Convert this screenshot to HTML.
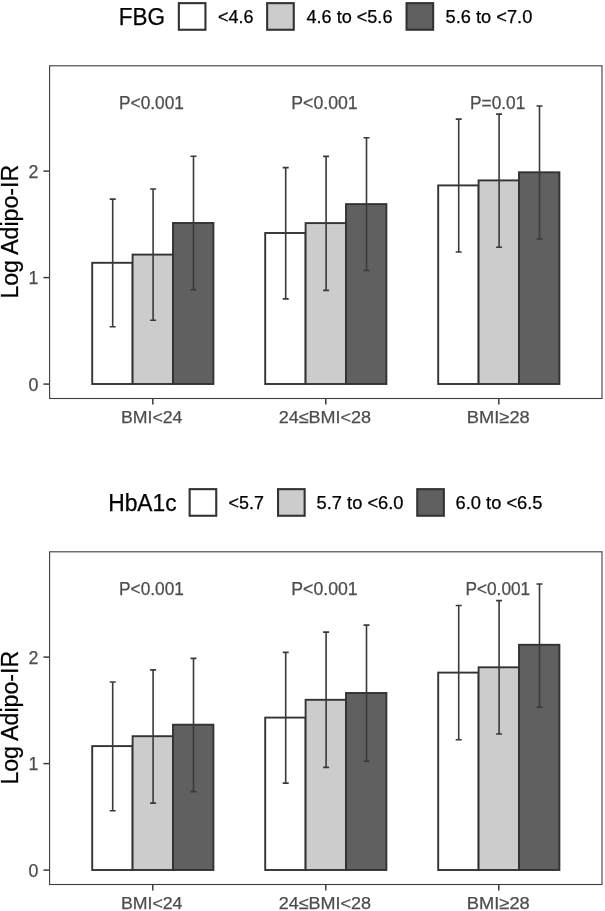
<!DOCTYPE html>
<html><head><meta charset="utf-8"><title>Log Adipo-IR</title>
<style>
html,body{margin:0;padding:0;background:#fff;}
body{width:605px;height:911px;overflow:hidden;}
svg{display:block;font-family:"Liberation Sans",Arial,sans-serif;will-change:transform;}
text{stroke:currentColor;stroke-width:0.25px;}
</style></head><body>
<svg width="605" height="911" viewBox="0 0 605 911">
<rect x="0" y="0" width="605" height="911" fill="#ffffff"/>
<text id="lt0" x="118.80" y="25.10" font-size="23.0" fill="#000" color="#000" textLength="46.28" lengthAdjust="spacingAndGlyphs">FBG</text>
<rect x="178.85" y="3.15" width="26.6" height="26.6" fill="#ffffff" stroke="#333333" stroke-width="2.1"/>
<text id="ll00" x="218.00" y="22.60" font-size="17.8" fill="#000" color="#000" textLength="35.51" lengthAdjust="spacingAndGlyphs">&lt;4.6</text>
<rect x="267.15" y="3.15" width="26.6" height="26.6" fill="#cccccc" stroke="#333333" stroke-width="2.1"/>
<text id="ll01" x="306.50" y="22.60" font-size="17.8" fill="#000" color="#000" textLength="85.93" lengthAdjust="spacingAndGlyphs">4.6 to &lt;5.6</text>
<rect x="406.55" y="3.15" width="26.6" height="26.6" fill="#606060" stroke="#333333" stroke-width="2.1"/>
<text id="ll02" x="445.60" y="22.60" font-size="17.8" fill="#000" color="#000" textLength="86.73" lengthAdjust="spacingAndGlyphs">5.6 to &lt;7.0</text>
<rect x="49.6" y="65.8" width="552.40" height="332.70" fill="none" stroke="#3d3d3d" stroke-width="1.1"/>
<line x1="43.4" y1="384.10" x2="49.6" y2="384.10" stroke="#3d3d3d" stroke-width="1.5"/>
<text id="yt00" x="38.30" y="390.90" font-size="17.8" fill="#4d4d4d" color="#4d4d4d" text-anchor="end">0</text>
<line x1="43.4" y1="277.60" x2="49.6" y2="277.60" stroke="#3d3d3d" stroke-width="1.5"/>
<text id="yt01" x="38.30" y="284.40" font-size="17.8" fill="#4d4d4d" color="#4d4d4d" text-anchor="end">1</text>
<line x1="43.4" y1="171.10" x2="49.6" y2="171.10" stroke="#3d3d3d" stroke-width="1.5"/>
<text id="yt02" x="38.30" y="177.90" font-size="17.8" fill="#4d4d4d" color="#4d4d4d" text-anchor="end">2</text>
<text id="yl0" transform="translate(17.80,231.75) rotate(-90)" x="0" y="0" font-size="23.0" fill="#000" color="#000" text-anchor="middle" textLength="133.78" lengthAdjust="spacingAndGlyphs">Log Adipo-IR</text>
<rect x="92.20" y="262.80" width="40.40" height="121.20" fill="#ffffff" stroke="#333333" stroke-width="1.9"/>
<rect x="132.60" y="254.60" width="40.40" height="129.40" fill="#cccccc" stroke="#333333" stroke-width="1.9"/>
<rect x="173.00" y="223.00" width="40.40" height="161.00" fill="#606060" stroke="#333333" stroke-width="1.9"/>
<path d="M112.70 199.10V326.80M109.70 199.10H115.70M109.70 326.80H115.70" stroke="#3a3a3a" stroke-width="1.6" fill="none"/>
<path d="M153.10 189.00V320.20M150.10 189.00H156.10M150.10 320.20H156.10" stroke="#3a3a3a" stroke-width="1.6" fill="none"/>
<path d="M193.50 156.30V289.70M190.50 156.30H196.50M190.50 289.70H196.50" stroke="#3a3a3a" stroke-width="1.6" fill="none"/>
<text id="pt00" x="151.50" y="108.50" font-size="17.7" fill="#4d4d4d" color="#4d4d4d" text-anchor="middle" textLength="64.79" lengthAdjust="spacingAndGlyphs">P&lt;0.001</text>
<line x1="152.80" y1="398.5" x2="152.80" y2="404.5" stroke="#3d3d3d" stroke-width="1.5"/>
<text id="xl00" x="151.70" y="422.70" font-size="17.2" fill="#4d4d4d" color="#4d4d4d" text-anchor="middle" textLength="61.52" lengthAdjust="spacingAndGlyphs">BMI&lt;24</text>
<rect x="265.20" y="233.00" width="40.40" height="151.00" fill="#ffffff" stroke="#333333" stroke-width="1.9"/>
<rect x="305.60" y="223.10" width="40.40" height="160.90" fill="#cccccc" stroke="#333333" stroke-width="1.9"/>
<rect x="346.00" y="204.10" width="40.40" height="179.90" fill="#606060" stroke="#333333" stroke-width="1.9"/>
<path d="M285.70 167.60V298.90M282.70 167.60H288.70M282.70 298.90H288.70" stroke="#3a3a3a" stroke-width="1.6" fill="none"/>
<path d="M326.10 156.40V290.40M323.10 156.40H329.10M323.10 290.40H329.10" stroke="#3a3a3a" stroke-width="1.6" fill="none"/>
<path d="M366.50 137.70V270.50M363.50 137.70H369.50M363.50 270.50H369.50" stroke="#3a3a3a" stroke-width="1.6" fill="none"/>
<text id="pt01" x="324.50" y="108.50" font-size="17.7" fill="#4d4d4d" color="#4d4d4d" text-anchor="middle" textLength="66.39" lengthAdjust="spacingAndGlyphs">P&lt;0.001</text>
<line x1="325.80" y1="398.5" x2="325.80" y2="404.5" stroke="#3d3d3d" stroke-width="1.5"/>
<text id="xl01" x="324.90" y="422.70" font-size="17.2" fill="#4d4d4d" color="#4d4d4d" text-anchor="middle" textLength="92.47" lengthAdjust="spacingAndGlyphs">24≤BMI&lt;28</text>
<rect x="438.20" y="185.40" width="40.40" height="198.60" fill="#ffffff" stroke="#333333" stroke-width="1.9"/>
<rect x="478.60" y="180.40" width="40.40" height="203.60" fill="#cccccc" stroke="#333333" stroke-width="1.9"/>
<rect x="519.00" y="172.30" width="40.40" height="211.70" fill="#606060" stroke="#333333" stroke-width="1.9"/>
<path d="M458.70 119.10V252.00M455.70 119.10H461.70M455.70 252.00H461.70" stroke="#3a3a3a" stroke-width="1.6" fill="none"/>
<path d="M499.10 114.10V247.30M496.10 114.10H502.10M496.10 247.30H502.10" stroke="#3a3a3a" stroke-width="1.6" fill="none"/>
<path d="M539.50 106.00V239.00M536.50 106.00H542.50M536.50 239.00H542.50" stroke="#3a3a3a" stroke-width="1.6" fill="none"/>
<text id="pt02" x="497.70" y="108.50" font-size="17.7" fill="#4d4d4d" color="#4d4d4d" text-anchor="middle" textLength="55.16" lengthAdjust="spacingAndGlyphs">P=0.01</text>
<line x1="498.80" y1="398.5" x2="498.80" y2="404.5" stroke="#3d3d3d" stroke-width="1.5"/>
<text id="xl02" x="498.30" y="422.70" font-size="17.2" fill="#4d4d4d" color="#4d4d4d" text-anchor="middle" textLength="62.91" lengthAdjust="spacingAndGlyphs">BMI≥28</text>
<text id="lt1" x="108.20" y="511.10" font-size="23.0" fill="#000" color="#000" textLength="68.45" lengthAdjust="spacingAndGlyphs">HbA1c</text>
<rect x="189.65" y="489.15" width="26.6" height="26.6" fill="#ffffff" stroke="#333333" stroke-width="2.1"/>
<text id="ll10" x="228.60" y="508.60" font-size="17.8" fill="#000" color="#000" textLength="35.31" lengthAdjust="spacingAndGlyphs">&lt;5.7</text>
<rect x="278.05" y="489.15" width="26.6" height="26.6" fill="#cccccc" stroke="#333333" stroke-width="2.1"/>
<text id="ll11" x="316.60" y="508.60" font-size="17.8" fill="#000" color="#000" textLength="86.93" lengthAdjust="spacingAndGlyphs">5.7 to &lt;6.0</text>
<rect x="417.25" y="489.15" width="26.6" height="26.6" fill="#606060" stroke="#333333" stroke-width="2.1"/>
<text id="ll12" x="455.60" y="508.60" font-size="17.8" fill="#000" color="#000" textLength="86.93" lengthAdjust="spacingAndGlyphs">6.0 to &lt;6.5</text>
<rect x="49.6" y="551.8" width="552.40" height="332.70" fill="none" stroke="#3d3d3d" stroke-width="1.1"/>
<line x1="43.4" y1="870.10" x2="49.6" y2="870.10" stroke="#3d3d3d" stroke-width="1.5"/>
<text id="yt10" x="38.30" y="876.90" font-size="17.8" fill="#4d4d4d" color="#4d4d4d" text-anchor="end">0</text>
<line x1="43.4" y1="763.60" x2="49.6" y2="763.60" stroke="#3d3d3d" stroke-width="1.5"/>
<text id="yt11" x="38.30" y="770.40" font-size="17.8" fill="#4d4d4d" color="#4d4d4d" text-anchor="end">1</text>
<line x1="43.4" y1="657.10" x2="49.6" y2="657.10" stroke="#3d3d3d" stroke-width="1.5"/>
<text id="yt12" x="38.30" y="663.90" font-size="17.8" fill="#4d4d4d" color="#4d4d4d" text-anchor="end">2</text>
<text id="yl1" transform="translate(17.80,717.75) rotate(-90)" x="0" y="0" font-size="23.0" fill="#000" color="#000" text-anchor="middle" textLength="133.78" lengthAdjust="spacingAndGlyphs">Log Adipo-IR</text>
<rect x="92.20" y="746.10" width="40.40" height="123.90" fill="#ffffff" stroke="#333333" stroke-width="1.9"/>
<rect x="132.60" y="736.20" width="40.40" height="133.80" fill="#cccccc" stroke="#333333" stroke-width="1.9"/>
<rect x="173.00" y="724.70" width="40.40" height="145.30" fill="#606060" stroke="#333333" stroke-width="1.9"/>
<path d="M112.70 682.00V810.80M109.70 682.00H115.70M109.70 810.80H115.70" stroke="#3a3a3a" stroke-width="1.6" fill="none"/>
<path d="M153.10 669.90V803.10M150.10 669.90H156.10M150.10 803.10H156.10" stroke="#3a3a3a" stroke-width="1.6" fill="none"/>
<path d="M193.50 658.40V791.60M190.50 658.40H196.50M190.50 791.60H196.50" stroke="#3a3a3a" stroke-width="1.6" fill="none"/>
<text id="pt10" x="151.50" y="594.50" font-size="17.7" fill="#4d4d4d" color="#4d4d4d" text-anchor="middle" textLength="64.79" lengthAdjust="spacingAndGlyphs">P&lt;0.001</text>
<line x1="152.80" y1="884.5" x2="152.80" y2="890.5" stroke="#3d3d3d" stroke-width="1.5"/>
<text id="xl10" x="151.70" y="908.70" font-size="17.2" fill="#4d4d4d" color="#4d4d4d" text-anchor="middle" textLength="61.52" lengthAdjust="spacingAndGlyphs">BMI&lt;24</text>
<rect x="265.20" y="717.60" width="40.40" height="152.40" fill="#ffffff" stroke="#333333" stroke-width="1.9"/>
<rect x="305.60" y="699.80" width="40.40" height="170.20" fill="#cccccc" stroke="#333333" stroke-width="1.9"/>
<rect x="346.00" y="693.00" width="40.40" height="177.00" fill="#606060" stroke="#333333" stroke-width="1.9"/>
<path d="M285.70 652.40V783.10M282.70 652.40H288.70M282.70 783.10H288.70" stroke="#3a3a3a" stroke-width="1.6" fill="none"/>
<path d="M326.10 632.10V767.40M323.10 632.10H329.10M323.10 767.40H329.10" stroke="#3a3a3a" stroke-width="1.6" fill="none"/>
<path d="M366.50 625.10V761.20M363.50 625.10H369.50M363.50 761.20H369.50" stroke="#3a3a3a" stroke-width="1.6" fill="none"/>
<text id="pt11" x="324.50" y="594.50" font-size="17.7" fill="#4d4d4d" color="#4d4d4d" text-anchor="middle" textLength="66.39" lengthAdjust="spacingAndGlyphs">P&lt;0.001</text>
<line x1="325.80" y1="884.5" x2="325.80" y2="890.5" stroke="#3d3d3d" stroke-width="1.5"/>
<text id="xl11" x="324.90" y="908.70" font-size="17.2" fill="#4d4d4d" color="#4d4d4d" text-anchor="middle" textLength="92.47" lengthAdjust="spacingAndGlyphs">24≤BMI&lt;28</text>
<rect x="438.20" y="672.60" width="40.40" height="197.40" fill="#ffffff" stroke="#333333" stroke-width="1.9"/>
<rect x="478.60" y="667.30" width="40.40" height="202.70" fill="#cccccc" stroke="#333333" stroke-width="1.9"/>
<rect x="519.00" y="644.80" width="40.40" height="225.20" fill="#606060" stroke="#333333" stroke-width="1.9"/>
<path d="M458.70 605.50V739.70M455.70 605.50H461.70M455.70 739.70H461.70" stroke="#3a3a3a" stroke-width="1.6" fill="none"/>
<path d="M499.10 600.60V734.00M496.10 600.60H502.10M496.10 734.00H502.10" stroke="#3a3a3a" stroke-width="1.6" fill="none"/>
<path d="M539.50 584.00V707.30M536.50 584.00H542.50M536.50 707.30H542.50" stroke="#3a3a3a" stroke-width="1.6" fill="none"/>
<text id="pt12" x="497.80" y="594.50" font-size="17.7" fill="#4d4d4d" color="#4d4d4d" text-anchor="middle" textLength="64.79" lengthAdjust="spacingAndGlyphs">P&lt;0.001</text>
<line x1="498.80" y1="884.5" x2="498.80" y2="890.5" stroke="#3d3d3d" stroke-width="1.5"/>
<text id="xl12" x="498.30" y="908.70" font-size="17.2" fill="#4d4d4d" color="#4d4d4d" text-anchor="middle" textLength="62.91" lengthAdjust="spacingAndGlyphs">BMI≥28</text>
</svg>
</body></html>
